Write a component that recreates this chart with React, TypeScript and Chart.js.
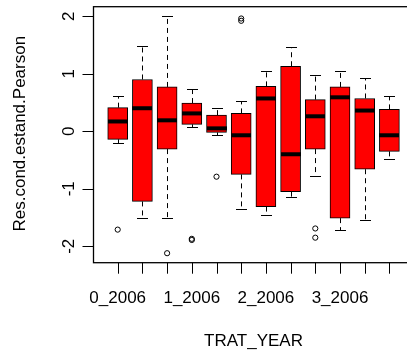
import React, { useEffect, useRef } from "react";
import { Chart, registerables } from "chart.js";

Chart.register(...registerables);

const xTickLabels = ["0_2006", "", "", "1_2006", "", "", "2_2006", "", "", "3_2006", "", ""];
const yTicks = [-2, -1, 0, 1, 2];
const whiskerLow = [-0.2, -1.51, -1.51, 0.08, -0.06, -1.36, -1.45, -1.15, -0.77, -1.71, -1.55, -0.49];
const q1 = [-0.14, -1.22, -0.31, 0.12, -0.02, -0.75, -1.31, -1.05, -0.31, -1.51, -0.66, -0.35];
const median = [0.17, 0.4, 0.19, 0.31, 0.05, -0.07, 0.57, -0.4, 0.26, 0.59, 0.36, -0.07];
const q3 = [0.41, 0.9, 0.77, 0.49, 0.28, 0.31, 0.78, 1.13, 0.55, 0.77, 0.57, 0.38];
const whiskerHigh = [0.61, 1.48, 2.0, 0.73, 0.4, 0.52, 1.04, 1.46, 0.98, 1.04, 0.92, 0.61];
const outliers: number[][] = [[-1.71], [], [-2.12], [-1.87, -1.89], [-0.79], [1.96, 1.92], [], [], [-1.69, -1.85], [], [], []];
const xTitle = "TRAT_YEAR";
const yTitle = "Res.cond.estand.Pearson";

const FONT = "17px 'Liberation Sans', Arial, sans-serif";

const rBoxPlugin = {
  id: "rbox",
  afterDatasetsDraw(chart: any) {
    const { ctx, scales } = chart;
    const x = scales.x;
    const y = scales.y;
    ctx.save();
    ctx.strokeStyle = "#000";
    ctx.fillStyle = "#000";
    ctx.lineWidth = 1;
    for (let i = 0; i < q1.length; i++) {
      const cx = Math.round(x.getPixelForValue(i + 1)) + 0.5;
      const yq1 = y.getPixelForValue(q1[i]);
      const yq3 = y.getPixelForValue(q3[i]);
      const ylo = Math.round(y.getPixelForValue(whiskerLow[i])) + 0.5;
      const yhi = Math.round(y.getPixelForValue(whiskerHigh[i])) + 0.5;
      ctx.setLineDash([5, 4]);
      ctx.beginPath();
      ctx.moveTo(cx, yq3);
      ctx.lineTo(cx, yhi);
      ctx.moveTo(cx, yq1);
      ctx.lineTo(cx, ylo);
      ctx.stroke();
      ctx.setLineDash([]);
      ctx.beginPath();
      ctx.moveTo(cx - 5.5, yhi);
      ctx.lineTo(cx + 5.5, yhi);
      ctx.moveTo(cx - 5.5, ylo);
      ctx.lineTo(cx + 5.5, ylo);
      ctx.stroke();
      const ym = y.getPixelForValue(median[i]);
      ctx.fillRect(cx - 10.5, ym - 2, 20, 4);
    }
    ctx.restore();
  },
  afterDraw(chart: any) {
    const { ctx, chartArea: a, scales } = chart;
    const x = scales.x;
    const y = scales.y;
    ctx.save();
    ctx.strokeStyle = "#000";
    ctx.lineWidth = 1.3;
    ctx.strokeRect(a.left, a.top, a.right - a.left, a.bottom - a.top);
    ctx.lineWidth = 1;
    ctx.fillStyle = "#000";
    ctx.font = FONT;
    ctx.beginPath();
    yTicks.forEach((v) => {
      const py = Math.round(y.getPixelForValue(v)) + 0.5;
      ctx.moveTo(a.left - 11, py);
      ctx.lineTo(a.left, py);
    });
    xTickLabels.forEach((_, i) => {
      const px = Math.round(x.getPixelForValue(i + 1)) + 0.5;
      ctx.moveTo(px, a.bottom);
      ctx.lineTo(px, a.bottom + 11);
    });
    ctx.stroke();
    ctx.textAlign = "center";
    ctx.textBaseline = "alphabetic";
    yTicks.forEach((v) => {
      const py = y.getPixelForValue(v);
      ctx.save();
      ctx.translate(a.left - 20, py);
      ctx.rotate(-Math.PI / 2);
      ctx.fillText(String(v), 0, 0);
      ctx.restore();
    });
    xTickLabels.forEach((lab, i) => {
      if (!lab) return;
      const px = x.getPixelForValue(i + 1);
      ctx.fillText(lab, px, a.bottom + 40);
    });
    ctx.fillText(xTitle, (a.left + a.right) / 2, a.bottom + 83);
    ctx.save();
    ctx.translate(a.left - 69, (a.top + a.bottom) / 2 - 1);
    ctx.rotate(-Math.PI / 2);
    ctx.fillText(yTitle, 0, 0);
    ctx.restore();
    ctx.restore();
  },
};

export default function App() {
  const ref = useRef<HTMLCanvasElement | null>(null);
  useEffect(() => {
    if (!ref.current) return;
    const outlierPts: { x: number; y: number }[] = [];
    outliers.forEach((arr, i) => arr.forEach((v) => outlierPts.push({ x: i + 1, y: v })));
    const chart = new Chart(ref.current, {
      type: "bar",
      data: {
        datasets: [
          {
            type: "bar",
            data: q1.map((v, i) => ({ x: i + 1, y: [v, q3[i]] })) as any,
            backgroundColor: "#FF0000",
            borderColor: "#000",
            borderWidth: 1,
            borderSkipped: false,
            barThickness: 20,
          } as any,
          {
            type: "scatter",
            data: outlierPts,
            pointStyle: "circle",
            pointRadius: 2.6,
            pointBorderColor: "#000",
            pointBackgroundColor: "rgba(0,0,0,0)",
            pointBorderWidth: 1,
          } as any,
        ],
      },
      options: {
        animation: false,
        responsive: false,
        maintainAspectRatio: false,
        devicePixelRatio: 1,
        layout: { padding: { left: 93.5, top: 6.7, right: 6.4, bottom: 88.3 } },
        plugins: { legend: { display: false }, tooltip: { enabled: false } },
        scales: {
          x: { type: "linear", min: 0.02, max: 12.98, offset: false, display: false },
          y: { type: "linear", min: -2.285, max: 2.165, display: false },
        },
      },
      plugins: [rBoxPlugin],
    });
    return () => chart.destroy();
  }, []);
  return (
    <div style={{ position: "fixed", left: 0, top: 0, width: 420, height: 351, background: "#fff" }}>
      <canvas ref={ref} width={420} height={351} style={{ width: 420, height: 351, display: "block" }} />
    </div>
  );
}
